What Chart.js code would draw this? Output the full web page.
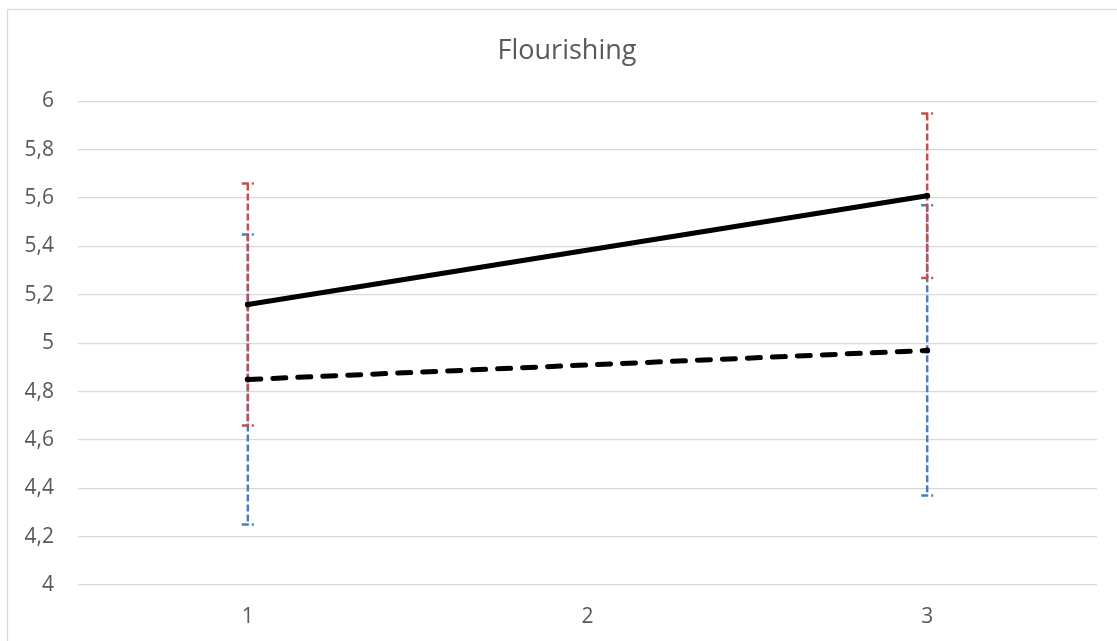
<!DOCTYPE html>
<html><head><meta charset="utf-8">
<script src="https://cdn.jsdelivr.net/npm/chart.js@4.4.0/dist/chart.umd.min.js"></script>
<style>html,body{margin:0;padding:0;background:#fff;overflow:hidden}#wrap{width:1117px;height:641px;position:relative}</style>
</head><body><div id="wrap"><canvas id="c" width="1117" height="641"></canvas></div>
<script>
const categories = ['1', '2', '3'];
const solidSeries = [5.16, null, 5.61];
const dashedSeries = [4.85, null, 4.97];
const solidErrLow = [4.66, null, 5.27];
const solidErrHigh = [5.66, null, 5.95];
const dashedErrLow = [4.25, null, 4.37];
const dashedErrHigh = [5.45, null, 5.57];
const yMin = 4, yMax = 6, yStep = 0.2;

const errorBars = {
  id: 'errorBars',
  beforeDatasetsDraw(chart) {
    const ctx = chart.ctx, xs = chart.scales.x, ys = chart.scales.y;
    const sets = [
      {low: dashedErrLow, high: dashedErrHigh, color: '#4a7ebb'},
      {low: solidErrLow, high: solidErrHigh, color: '#c0504d'}
    ];
    ctx.save();
    ctx.lineWidth = 2.5;
    ctx.setLineDash([7, 3]);
    ctx.lineCap = 'butt';
    sets.forEach(s => {
      ctx.strokeStyle = s.color;
      categories.forEach((c, i) => {
        if (s.low[i] == null) return;
        const x = xs.getPixelForValue(i);
        const yl = ys.getPixelForValue(s.low[i]);
        const yh = ys.getPixelForValue(s.high[i]);
        ctx.beginPath(); ctx.moveTo(x, yh); ctx.lineTo(x, yl); ctx.stroke();
        [yl, yh].forEach(y => {
          ctx.beginPath(); ctx.moveTo(x - 6, y); ctx.lineTo(x + 6, y); ctx.stroke();
        });
      });
    });
    ctx.restore();
  }
};

const frame = {
  id: 'frame',
  beforeDraw(chart) {
    const ctx = chart.ctx;
    ctx.save();
    ctx.fillStyle = '#fff';
    ctx.fillRect(0, 0, chart.width, chart.height);
    ctx.strokeStyle = '#d9d9d9';
    ctx.lineWidth = 1.3;
    ctx.strokeRect(7.5, 9.5, 1200, 800);
    ctx.restore();
  }
};

const fmt = v => String(Math.round(v * 10) / 10).replace('.', ',');

new Chart(document.getElementById('c'), {
  type: 'line',
  data: {
    labels: categories,
    datasets: [
      {label: 'Series 1', data: solidSeries, borderColor: '#000', backgroundColor: '#000',
       borderWidth: 5, pointRadius: 3, pointBackgroundColor: '#000', pointBorderWidth: 0,
       spanGaps: true, tension: 0, borderCapStyle: 'round'},
      {label: 'Series 2', data: dashedSeries, borderColor: '#000', backgroundColor: '#000',
       borderWidth: 5, borderDash: [13, 12], borderCapStyle: 'round', pointRadius: 3,
       pointBackgroundColor: '#000', pointBorderWidth: 0, spanGaps: true, tension: 0}
    ]
  },
  options: {
    responsive: false, animation: false, devicePixelRatio: 1,
    layout: {padding: {left: 17, right: 0, top: 0, bottom: 0}},
    plugins: {
      legend: {display: false},
      tooltip: {enabled: false},
      title: {display: true, text: 'Flourishing', color: '#595959',
        font: {family: '"Open Sans"', size: 27, weight: 'normal'},
        padding: {top: 35, bottom: 34}}
    },
    scales: {
      x: {
        offset: true,
        grid: {display: false, drawTicks: false},
        border: {display: false},
        ticks: {color: '#595959', font: {family: '"Open Sans"', size: 21}, padding: 19},
        afterFit(s) { s.height = 56; }
      },
      y: {
        min: yMin, max: yMax,
        ticks: {stepSize: yStep, color: '#595959', font: {family: '"Open Sans"', size: 21},
          padding: 24, callback: v => fmt(v)},
        grid: {color: '#d9d9d9', lineWidth: 1.3, drawTicks: false},
        border: {display: false},
        afterFit(s) { s.width = 61; }
      },
      y2: {
        position: 'right', min: yMin, max: yMax,
        ticks: {display: false}, grid: {display: false, drawTicks: false},
        border: {display: false},
        afterFit(s) { s.width = 20; }
      }
    }
  },
  plugins: [frame, errorBars]
});
</script></body></html>
